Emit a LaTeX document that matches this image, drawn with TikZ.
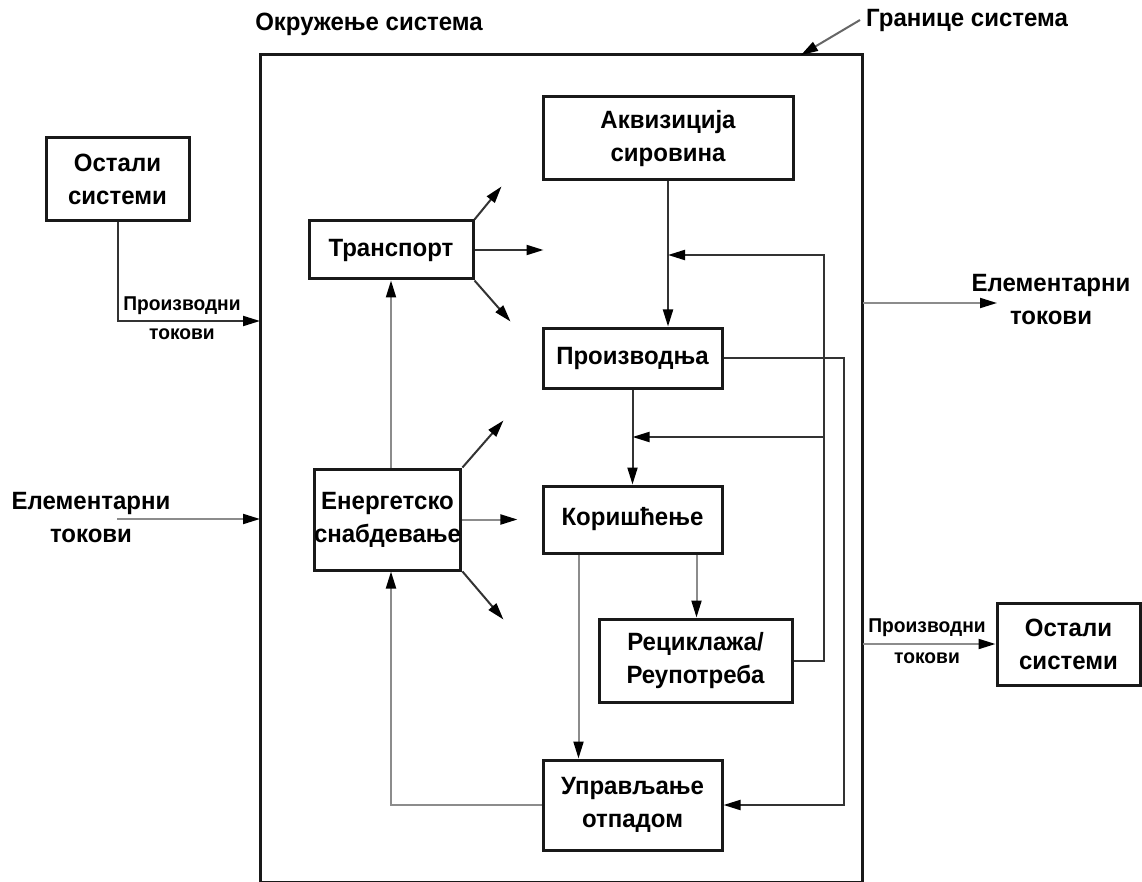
\documentclass[tikz,border=0pt]{standalone}
\usepackage{fontspec}
\setmainfont{Liberation Sans}[FakeStretch=0.96]
\usetikzlibrary{arrows.meta,positioning,calc}

\newcommand\bigtxt{\fontsize{25}{33}\selectfont\bfseries}
\newcommand\smalltxt{\fontsize{20}{24}\selectfont\bfseries}

\begin{document}
\begin{tikzpicture}[
  x=1pt, y=-1pt,
  box/.style={draw=black!90, line width=3pt, align=center, inner sep=0pt, font=\bigtxt},
  lbl/.style={align=center, inner sep=0pt, font=\bigtxt},
  small/.style={inner sep=0pt, font=\smalltxt},
  arr/.style={-{Triangle[length=17pt,width=10pt,black]}, line width=2pt, draw=black!80},
  garr/.style={arr, draw=black!45}
]
\useasboundingbox (0,0) rectangle (1142,882);

% system boundary
\node[draw=black!90, line width=3pt, inner sep=0pt, minimum width=602pt, minimum height=827pt] (sys) at (561,468.5) {};
\node[lbl] (env) at (369,24) {Окружење система};
\node[lbl, anchor=west] (bound) at (866,20) {Границе система};
\coordinate (bnd) at (801,55);
\draw[arr, draw=black!60] ([xshift=-6pt]bound.west) -- (bnd);

% boxes
\node[box, minimum width=143pt, minimum height=83pt] (othL) at (117.5,179.5) {Остали\\системи};
\node[box, minimum width=250pt, minimum height=83pt] (acq) at (668,138.5) {Аквизиција\\сировина};
\node[box, minimum width=164pt, minimum height=58pt] (trans) at (391,250) {Транспорт};
\node[box, minimum width=179pt, minimum height=60pt] (prod) at (632.5,358) {Производња};
\node[box, minimum width=179pt, minimum height=67pt] (use) at (632.5,519.5) {Коришћење};
\node[box, minimum width=193pt, minimum height=83pt] (recy) at (695.5,660.5) {Рециклажа/\\Реупотреба};
\node[box, minimum width=179pt, minimum height=90pt] (waste) at (632.5,805) {Управљање\\отпадом};
\node[box, minimum width=143pt, minimum height=101pt] (energy) at (387.5,519.5) {Енергетско\\снабдевање};
\node[box, minimum width=143pt, minimum height=82pt] (othR) at (1068.5,644) {Остали\\системи};

% flow labels
\node[lbl] (elemL) at (91,518) {Елементарни\\токови};
\node[lbl] (elemR) at (1051,300) {Елементарни\\токови};
\node[small] (prodL1) at (182,306) {Производни};
\node[small] (prodL2) at (182,334) {токови};
\node[small] (prodR1) at (927,628) {Производни};
\node[small] (prodR2) at (927,658) {токови};

% free ends
\coordinate (inP) at (260,321);
\coordinate (elemLs) at (117,519);
\coordinate (inE) at (260,519);
\coordinate (outE) at (863,303);
\coordinate (outEt) at (997,303);
\coordinate (outP) at (863,644);
\coordinate (j1r) at (824,255);
\coordinate (j2r) at (824,437);

% inputs and outputs
\draw[arr] (othL.south) |- (inP);
\draw[garr] (elemLs) -- (inE);
\draw[garr] (outE) -- (outEt);
\draw[garr] (outP) -- (othR.west);

% transport and energy fans
\draw[arr] (trans.north east) -- ++(27,-33);
\draw[arr] (trans.east) -- ++(69,0);
\draw[arr] (trans.south east) -- ++(36,41);
\draw[arr] (energy.north east) -- ++(41,-47);
\draw[garr] (energy.east) -- ++(55,0);
\draw[arr] (energy.south east) -- ++(41,48);
\draw[garr] (energy.north -| trans) -- (trans.south);
\draw[garr] (waste.west) -| (energy.south -| trans);

% life cycle
\draw[arr] (acq.south) -- (acq.south |- prod.north);
\draw[arr] (prod.south) -- (use.north);
\draw[arr] (recy.east) -| (j1r) -- (acq.south |- j1r);
\draw[arr] (j2r) -- (prod.south |- j2r);
\draw[arr] (prod.east) -- ++(120,0) |- (waste.east);
\draw[garr] ([xshift=-54pt]use.south) -- ([xshift=-54pt]waste.north);
\draw[garr] ([xshift=64pt]use.south) -- ([xshift=64pt]use.south |- recy.north);
\end{tikzpicture}
\end{document}
